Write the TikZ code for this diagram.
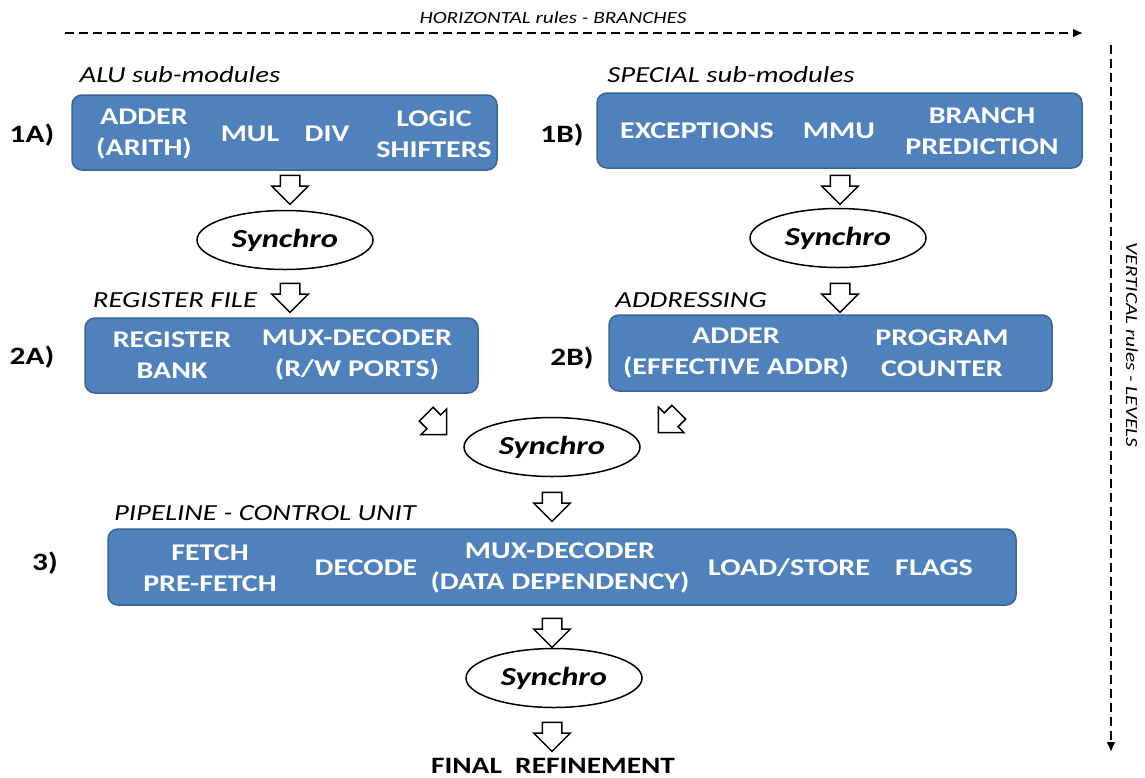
\documentclass[tikz,border=0pt]{standalone}
\usepackage{fontspec}
\setmainfont{Carlito}[FakeStretch=1.25]
\usetikzlibrary{shapes.geometric,shapes.arrows,arrows.meta,calc}

\definecolor{boxblue}{HTML}{4F81BD}
\definecolor{boxline}{HTML}{3A6496}

\tikzset{
  block/.style={draw=boxline, line width=1.5pt, fill=boxblue, rounded corners=10pt},
  item/.style={text=white, font=\fontsize{24}{31}\selectfont\bfseries, align=center},
  synchro/.style={ellipse, draw, line width=1.5pt, minimum width=176pt, minimum height=59pt, inner sep=0pt, font=\fontsize{26}{30}\selectfont\bfseries\itshape},
  blockarrow/.style={single arrow, draw, line width=1.5pt, fill=white, inner xsep=0pt, inner ysep=9pt, minimum height=29pt, single arrow head extend=8.5pt},
  level/.style={font=\fontsize{25}{30}\selectfont\bfseries},
  heading/.style={font=\fontsize{23}{28}\selectfont\itshape},
  rule/.style={dashed, dash pattern=on 9pt off 5pt, line width=2pt, -{Latex[length=10pt,width=9pt]}}
}

\begin{document}
\begin{tikzpicture}[x=1pt,y=-1pt]

\useasboundingbox (0,0) rectangle (1145,777);

% rules
\coordinate (hstart) at (65,33);
\coordinate (hend) at (1083,33);
\coordinate (vstart) at (1111,45);
\coordinate (vend) at (1111,752);
\draw[rule] (hstart) -- (hend);
\draw[rule] (vstart) -- (vend);
\node[font=\fontsize{17}{20}\selectfont\itshape] (htext) at (553,18) {HORIZONTAL rules - BRANCHES};
\node[font=\fontsize{17}{20}\selectfont\itshape, rotate=-90] (vtext) at (1132,345) {VERTICAL rules - LEVELS};

% level 1
\node[heading] (alulabel) at (180,75) {ALU sub-modules};
\node[heading] (speclabel) at (731,75) {SPECIAL sub-modules};
\node[level] (l1a) at (32,135) {1A)};
\node[level] (l1b) at (562,135) {1B)};

\node[block, minimum width=425pt, minimum height=75pt] (alu) at (284.5,132.5) {};
\node[item] (adder) at (144,134) {ADDER\\(ARITH)};
\node[item] (mul) at (250,134) {MUL};
\node[item] (div) at (327,134) {DIV};
\node[item] (logic) at (434,134) {LOGIC\\SHIFTERS};

\node[block, minimum width=485pt, minimum height=75pt] (special) at (839.5,130.5) {};
\node[item] (exc) at (697,131) {EXCEPTIONS};
\node[item] (mmu) at (839,131) {MMU};
\node[item] (bp) at (982,131) {BRANCH\\PREDICTION};

\node[synchro] (syncA) at (285,240) {Synchro};
\node[synchro] (syncB) at (838,238) {Synchro};

\node[blockarrow, rotate=-90] (arrA1) at (290,185) {};
\node[blockarrow, rotate=-90] (arrB1) at (840,185) {};
\node[blockarrow, rotate=-90] (arrA2) at (290,293) {};
\node[blockarrow, rotate=-90] (arrB2) at (840,293) {};

% level 2
\node[heading] (reglabel) at (175,300) {REGISTER FILE};
\node[heading] (addrlabel) at (691,300) {ADDRESSING};
\node[level] (l2a) at (32,357) {2A)};
\node[level] (l2b) at (572,358) {2B)};

\node[block, minimum width=393pt, minimum height=75pt] (regfile) at (281.5,355.5) {};
\node[item] (bank) at (172,355) {REGISTER\\BANK};
\node[item] (muxrw) at (357,355) {MUX-DECODER\\(R/W PORTS)};

\node[block, minimum width=443pt, minimum height=76pt] (addressing) at (830.5,353) {};
\node[item] (effaddr) at (736,353) {ADDER\\(EFFECTIVE ADDR)};
\node[item] (pc) at (942,353) {PROGRAM\\COUNTER};

\node[blockarrow, rotate=-45] (arrA3) at (433,421) {};
\node[blockarrow, rotate=-135] (arrB3) at (672,419) {};
\node[synchro] (syncC) at (552,447) {Synchro};

% level 3
\node[blockarrow, rotate=-90] (arrC) at (552,502) {};
\node[heading] (pipelabel) at (265,513) {PIPELINE - CONTROL UNIT};
\node[level] (l3) at (45,563) {3)};

\node[block, minimum width=908pt, minimum height=76pt] (pipeline) at (562,567) {};
\node[item] (fetch) at (210,568) {FETCH\\PRE-FETCH};
\node[item] (decode) at (366,568) {DECODE};
\node[item] (muxdata) at (560,568) {MUX-DECODER\\(DATA DEPENDENCY)};
\node[item] (ldst) at (789,568) {LOAD/STORE};
\node[item] (flags) at (934,568) {FLAGS};

\node[blockarrow, rotate=-90] (arrD) at (552,628) {};
\node[synchro] (syncD) at (554,678) {Synchro};
\node[blockarrow, rotate=-90] (arrE) at (552,732) {};
\node[font=\fontsize{23.5}{28}\selectfont\bfseries, anchor=base] (final) at (553,773) {FINAL~ REFINEMENT};

\end{tikzpicture}
\end{document}
